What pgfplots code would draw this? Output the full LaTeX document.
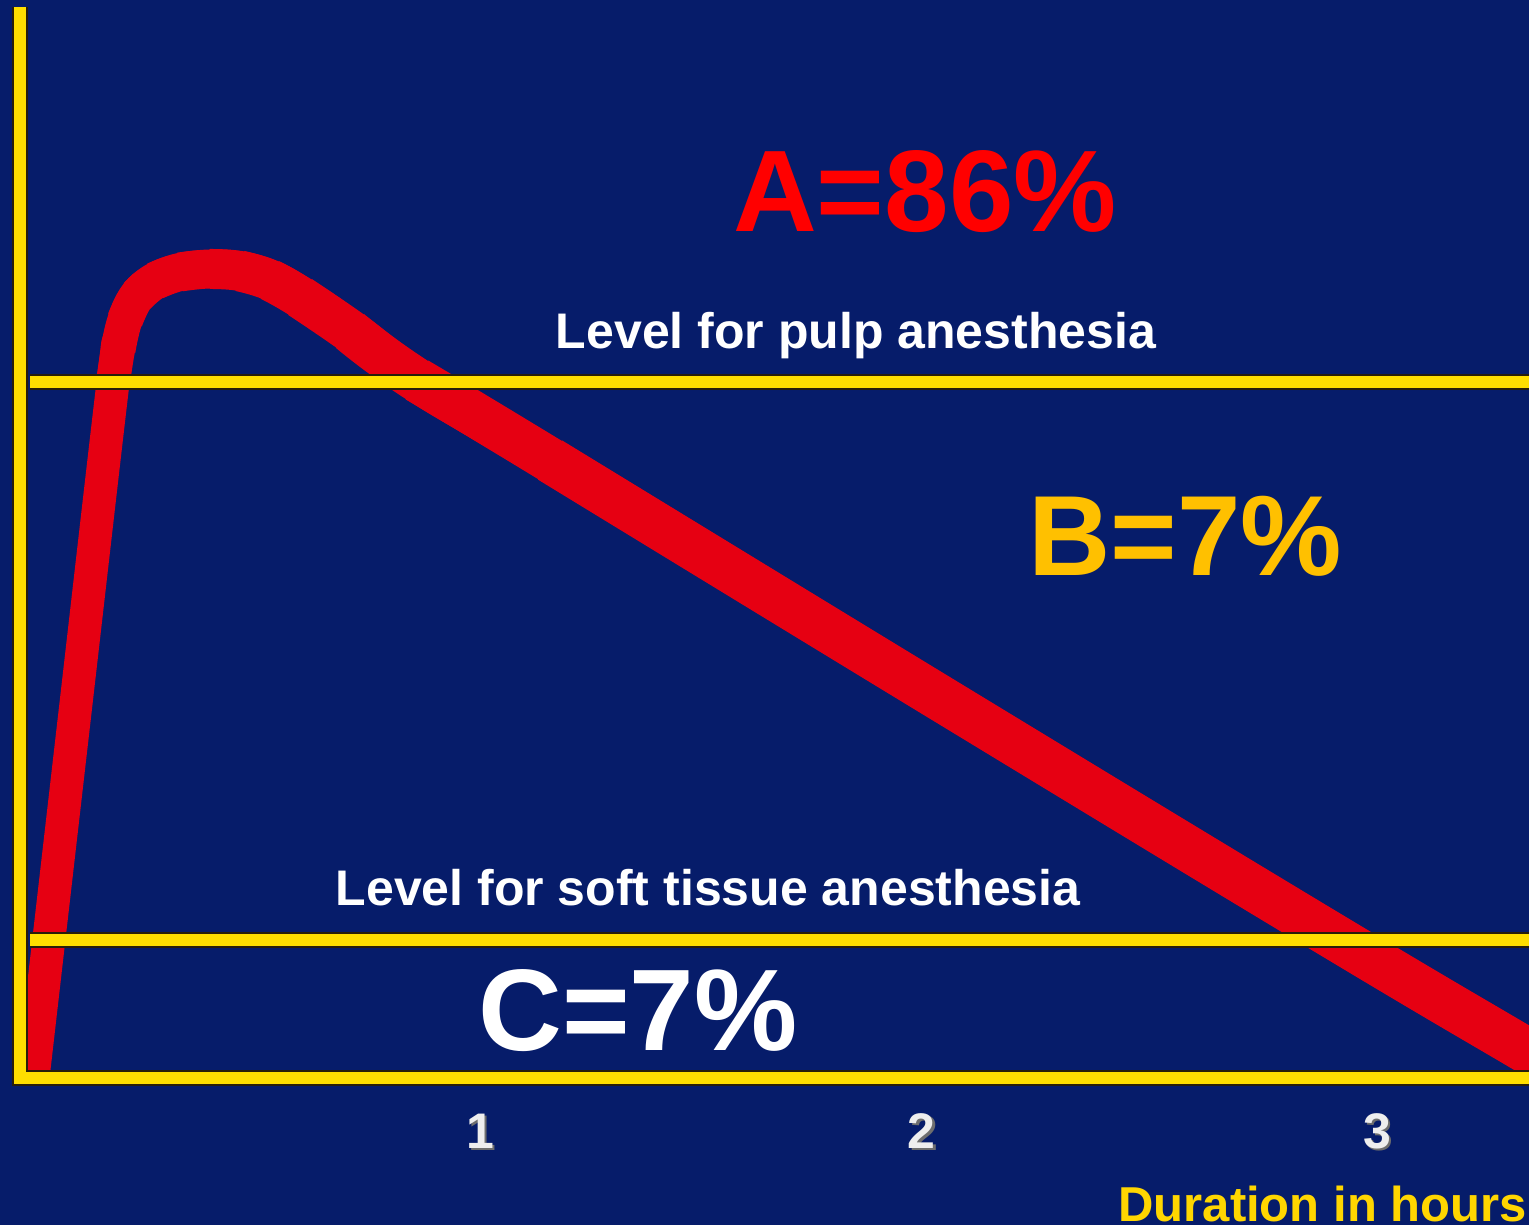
\documentclass[border=0pt]{standalone}
\usepackage{pgfplots}
\usepackage{pgfplotstable}
\pgfplotsset{compat=1.18}
\usepackage{fontspec}
\setmainfont{Liberation Sans}
\definecolor{bg}{RGB}{6,28,106}
\definecolor{yline}{RGB}{255,222,0}
\definecolor{ydark}{RGB}{40,30,10}
\definecolor{curvered}{RGB}{230,0,18}
\definecolor{titlered}{RGB}{255,0,0}
\definecolor{bgold}{RGB}{255,192,0}
\definecolor{durgold}{RGB}{255,214,0}
\definecolor{tickwhite}{RGB}{238,238,238}
\definecolor{shadowgray}{RGB}{110,110,110}
\newcommand\sh[1]{\rlap{\kern1.2pt\raisebox{-1pt}{\textcolor{shadowgray}{#1}}}#1}
% concentration curve (hours, level)
\pgfplotstableread{
x y
0.0033 0
0.0925 34.8
0.1817 69.5
0.1929 72.8
0.2085 75.8
0.2352 78.2
0.2754 79.7
0.3311 80.6
0.3980 80.9
0.4649 80.7
0.5318 79.8
0.5987 78.1
0.7101 74.7
0.8595 69.8
1.1561 61.8
2.0479 37.4
2.9019 14.2
3.3389 2.6
3.4972 -1.6
}\curve
\begin{document}
\begin{tikzpicture}
\useasboundingbox (0,0) rectangle (764.5pt,612.5pt);
\fill[bg] (0,0) rectangle (764.5pt,612.5pt);
\begin{axis}[
  at={(10pt,73.5pt)}, anchor=south west,
  scale only axis, width=754.5pt, height=536.5pt,
  xmin=-0.0256, xmax=3.339, ymin=0, ymax=107.3,
  clip=false,
  axis line style={draw=none},
  tick style={draw=none},
  ytick=\empty,
  xtick={1,1.985,3}, xticklabels={\sh{1},\sh{2},\sh{3}},
  xticklabel style={anchor=base, inner sep=0pt, yshift=-35pt, text=tickwhite,
    font=\fontsize{25}{30}\selectfont\bfseries},
  yl/.style={draw=ydark, line width=1.3pt, double=yline, double distance=5.8pt},
  rc/.style={draw=curvered, smooth, tension=0.7, line cap=butt, line join=round},
]
% red curve, thickening gradually along its length
\addplot[rc, line width=16.5pt] table {\curve};
\addplot[rc, line width=17pt, restrict x to domain=0.18:4] table {\curve};
\addplot[rc, line width=17.5pt, restrict x to domain=0.19:4] table {\curve};
\addplot[rc, line width=18pt, restrict x to domain=0.20:4] table {\curve};
\addplot[rc, line width=18.5pt, restrict x to domain=0.23:4] table {\curve};
\addplot[rc, line width=19pt, restrict x to domain=0.27:4] table {\curve};
\addplot[rc, line width=19.5pt, restrict x to domain=0.33:4] table {\curve};
\addplot[rc, line width=20pt, restrict x to domain=0.39:4] table {\curve};
\addplot[rc, line width=20.5pt, restrict x to domain=0.46:4] table {\curve};
\addplot[rc, line width=21pt, restrict x to domain=0.53:4] table {\curve};
\addplot[rc, line width=21.5pt, restrict x to domain=0.59:4] table {\curve};
\addplot[rc, line width=22pt, restrict x to domain=0.70:4] table {\curve};
\addplot[rc, line width=22.5pt, restrict x to domain=0.85:4] table {\curve};
\addplot[rc, line width=23pt, restrict x to domain=1.15:4] table {\curve};
% yellow axes and levels
\addplot[yl, line join=miter] coordinates {(-0.0256,107.1) (-0.0256,0) (3.5,0)};
\addplot[yl] coordinates {(-0.003,69.6) (3.5,69.6)};
\addplot[yl] coordinates {(-0.003,13.8) (3.5,13.8)};
\end{axis}
\node[anchor=base, inner sep=0pt, text=titlered, font=\fontsize{58}{60}\selectfont\bfseries] at (462.5pt,496.5pt) {A=86\%};
\node[anchor=base, inner sep=0pt, text=white, font=\fontsize{25}{30}\selectfont\bfseries] at (428pt,438pt) {Level for pulp anesthesia};
\node[anchor=base, inner sep=0pt, text=bgold, font=\fontsize{57}{60}\selectfont\bfseries] at (592.5pt,324.5pt) {B=7\%};
\node[anchor=base, inner sep=0pt, text=white, font=\fontsize{25}{30}\selectfont\bfseries] at (354pt,159.5pt) {Level for soft tissue anesthesia};
\node[anchor=base, inner sep=0pt, text=white, font=\fontsize{58}{60}\selectfont\bfseries] at (319pt,87pt) {C=7\%};
\node[anchor=base west, inner sep=0pt, text=durgold, font=\fontsize{24.5}{30}\selectfont\bfseries] at (559pt,2pt) {Duration in hours};
\end{tikzpicture}
\end{document}
